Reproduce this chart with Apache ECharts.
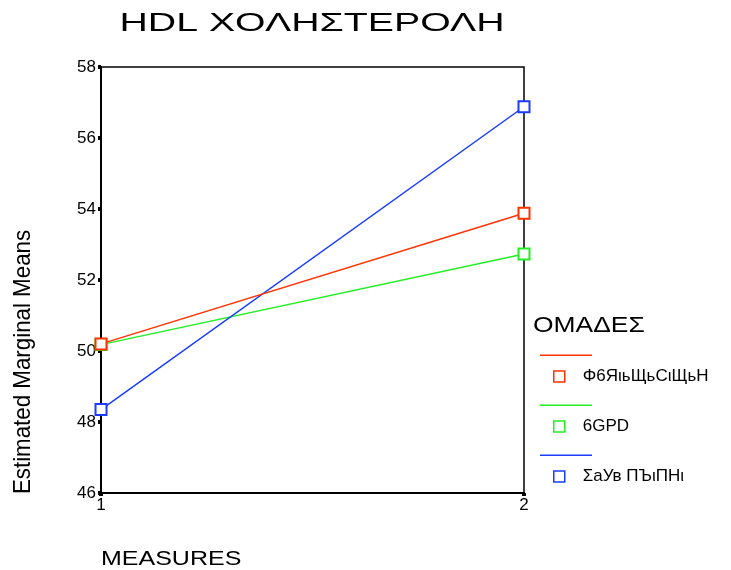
<!DOCTYPE html>
<html>
<head>
<meta charset="utf-8">
<script src="https://cdn.jsdelivr.net/npm/echarts@6/dist/echarts.min.js"></script>
<style>
  html, body { margin: 0; padding: 0; background: #fff; }
  #chart { width: 731px; height: 570px; }
</style>
</head>
<body>
<div id="chart"></div>
<script>
// data
const measures = ['1', '2']
const groupNames = ['Φ6ЯιьЩьCιЩьН', '6GPD', 'ΣaУв ПЪιПНι']
const groupColors = ['#ff3300', '#22ee22', '#1a3cff']
const meansGroup1 = [50.2, 53.88]
const meansGroup2 = [50.18, 52.73]
const meansGroup3 = [48.35, 56.88]
const yTicks = [46, 48, 50, 52, 54, 56, 58]

const allMeans = [meansGroup1, meansGroup2, meansGroup3]
// rouge au-dessus, puis bleu, puis vert
const seriesZ = [4, 2, 3]
const font = 'Liberation Sans, Arial, sans-serif'

const chart = echarts.init(document.getElementById('chart'))

chart.setOption({
  animation: false,
  backgroundColor: '#fff',
  grid: {
    left: 101, right: 207, top: 67, bottom: 77,
    show: true, borderColor: '#000', borderWidth: 1.5
  },
  xAxis: {
    type: 'category',
    data: measures,
    boundaryGap: false,
    axisLine: { lineStyle: { color: '#000', width: 2 } },
    axisTick: { show: true, length: 3, lineStyle: { color: '#000', width: 4 } },
    axisLabel: { color: '#000', fontFamily: font, fontSize: 17, margin: 4 },
    splitLine: { show: false }
  },
  yAxis: {
    type: 'value',
    min: yTicks[0],
    max: yTicks[yTicks.length - 1],
    interval: 2,
    axisLine: { show: true, lineStyle: { color: '#000', width: 2 } },
    axisTick: { show: true, length: 3, lineStyle: { color: '#000', width: 4 } },
    axisLabel: { color: '#000', fontFamily: font, fontSize: 17, margin: 5,
      verticalAlign: 'middle', padding: [0, 0, 2, 0] },
    splitLine: { show: false }
  },
  legend: [
    {
      orient: 'vertical', left: 540, top: 354.5, padding: 0,
      itemWidth: 52, itemHeight: 1.5, itemGap: 48.5,
      formatter: () => '',
      textStyle: { fontSize: 1 },
      selectedMode: false,
      data: groupNames.map((n, i) => ({ name: n, icon: 'rect', itemStyle: { color: groupColors[i], borderWidth: 0 } }))
    },
    {
      orient: 'vertical', left: 553, top: 368, padding: 0,
      itemWidth: 11, itemHeight: 11, itemGap: 33,
      textStyle: { color: '#000', fontFamily: font, fontSize: 17, padding: [0, 0, 0, 13] },
      selectedMode: false,
      data: groupNames.map((n, i) => ({
        name: n, icon: 'rect',
        itemStyle: { color: '#fff', borderColor: groupColors[i], borderWidth: 1.5 },
        textStyle: { color: '#000', padding: [0, 0, 0, 13] }
      }))
    }
  ],
  series: groupNames.map((n, i) => ({
    name: n,
    type: 'line',
    z: seriesZ[i],
    data: allMeans[i],
    symbol: 'emptyRect',
    symbolSize: 11,
    color: groupColors[i],
    lineStyle: { width: 1.5, color: groupColors[i] },
    itemStyle: { color: groupColors[i], borderWidth: 1.5 }
  })),
  graphic: [
    {
      type: 'text', x: 312, y: 11, scaleX: 1.51,
      style: { text: 'HDL ΧΟΛΗΣΤΕΡΟΛΗ', font: '26px ' + font, fill: '#000', textAlign: 'center' }
    },
    {
      type: 'text', x: 533, y: 315, scaleX: 1.2,
      style: { text: 'ΟΜΑΔΕΣ', font: '22px ' + font, fill: '#000' }
    },
    {
      type: 'text', x: 101, y: 549, scaleX: 1.25,
      style: { text: 'MEASURES', font: '20px ' + font, fill: '#000' }
    },
    {
      type: 'text', x: 11, y: 362, rotation: Math.PI / 2, scaleX: 0.93,
      style: { text: 'Estimated Marginal Means', font: '24px ' + font, fill: '#000', textAlign: 'center' }
    }
  ]
})
</script>
</body>
</html>
